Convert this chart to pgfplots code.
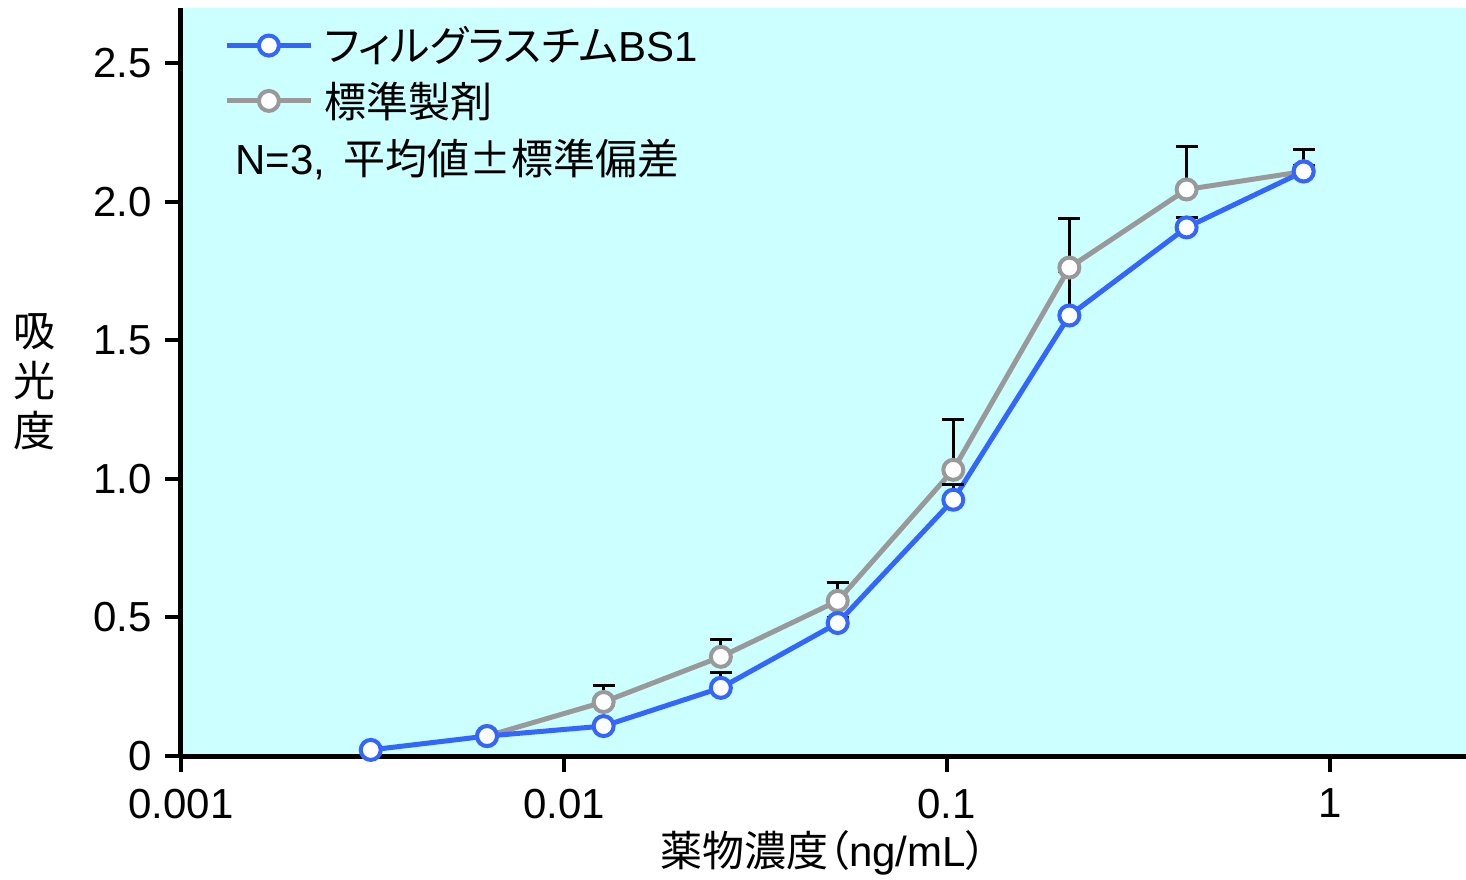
\documentclass[border=0pt]{standalone}
\usepackage{pgfplots}
\usepackage{pgfplotstable}
\pgfplotsset{compat=1.18}
\usepackage{fontspec}
\setmainfont{Liberation Sans}
\newfontfamily\cjk{Noto Sans CJK JP}
\newfontfamily\cjkp[RawFeature=+palt]{Noto Sans CJK JP}
\definecolor{bsblue}{RGB}{51,102,255}
\definecolor{refgray}{RGB}{153,153,153}
\definecolor{bgcyan}{RGB}{204,255,255}

\pgfplotstableread{
x y e
0.0063 0.072 0
0.0127 0.195 0.061
0.0257 0.358 0.061
0.0519 0.560 0.065
0.104 1.033 0.181
0.209 1.763 0.177
0.423 2.045 0.155
0.855 2.110 0.080
}\refdata

\pgfplotstableread{
x y e
0.00313 0.022 0
0.0063 0.072 0
0.0127 0.108 0.01
0.0257 0.246 0.054
0.0519 0.480 0.02
0.104 0.925 0.054
0.209 1.590 0.16
0.423 1.908 0.036
0.855 2.110 0.02
}\bsdata

\begin{document}
\begin{tikzpicture}[font=\fontsize{21}{25}\selectfont]
\begin{axis}[
  xmode=log,
  scale only axis,
  width=642.5pt, height=374pt,
  xmin=0.001, xmax=2.27, ymin=0, ymax=2.7,
  axis x line*=bottom, axis y line*=left,
  axis line style={line width=2.5pt, -},
  axis background/.style={fill=bgcyan},
  xtick={0.001,0.01,0.1,1}, xticklabels={0.001,0.01,0.1,1},
  ytick={0,0.5,1,1.5,2,2.5}, yticklabels={0,0.5,1.0,1.5,2.0,2.5},
  xminorticks=false, yminorticks=false,
  tick align=outside, major tick length=8pt,
  every tick/.style={black, line width=2pt},
  xticklabel style={yshift=-5pt},
  yticklabel style={xshift=-3pt},
  xlabel={{\cjk 薬物濃度}{\cjkp （}ng/mL{\cjkp ）}},
  xlabel style={at={(rel axis cs:0.5,0)}, anchor=center, yshift=-48.5pt},
  ylabel={{\cjk 吸}\\{\cjk 光}\\{\cjk 度}},
  ylabel style={rotate=-90, align=center, at={(rel axis cs:0,0.5)}, anchor=center, xshift=-73pt},
  legend style={at={(rel axis cs:0,1)}, anchor=north west, xshift=21.5pt, yshift=-7pt,
    draw=none, fill=none, row sep=4.5pt, inner sep=0pt},
  legend cell align=left,
  legend image code/.code={\draw[mark repeat=2,mark phase=2] plot coordinates {(0pt,0pt) (21pt,0pt) (42pt,0pt)};},
]
% lines with error bars
\addplot[refgray, line width=2.5pt, no marks, forget plot,
  error bars/.cd, y dir=plus, y explicit,
  error bar style={black, line width=1.5pt},
  error mark options={black, line width=1.5pt, mark size=5.5pt, rotate=90}]
  table[x=x, y=y, y error=e] {\refdata};
\addplot[bsblue, line width=2.5pt, no marks, forget plot,
  error bars/.cd, y dir=plus, y explicit,
  error bar style={black, line width=1.5pt},
  error mark options={black, line width=1.5pt, mark size=5.5pt, rotate=90}]
  table[x=x, y=y, y error=e] {\bsdata};
% markers
\addplot[only marks, mark=*, mark size=5pt, mark options={draw=refgray, fill=white, line width=2pt}, forget plot]
  table[x=x, y=y] {\refdata};
\addplot[only marks, mark=*, mark size=5pt, mark options={draw=bsblue, fill=white, line width=2pt}, forget plot]
  table[x=x, y=y] {\bsdata};
\addlegendimage{bsblue, line width=2.5pt, mark=*, mark size=5pt, mark options={draw=bsblue, fill=white, line width=2pt}}
\addlegendentry{\hspace{3.5pt}{\cjkp フィルグラスチム}BS1}
\addlegendimage{refgray, line width=2.5pt, mark=*, mark size=5pt, mark options={draw=refgray, fill=white, line width=2pt}}
\addlegendentry{\hspace{3.5pt}{\cjk 標準製剤}}
\node[anchor=west, inner sep=0pt] at (rel axis cs:0,0.7978) [xshift=27pt] {N=3,\hspace{9pt}{\cjk 平均値±標準偏差}};
\end{axis}
\pgfresetboundingbox
\path (-90.5pt,-61.5pt) rectangle (642.5pt,378pt);
\end{tikzpicture}
\end{document}
